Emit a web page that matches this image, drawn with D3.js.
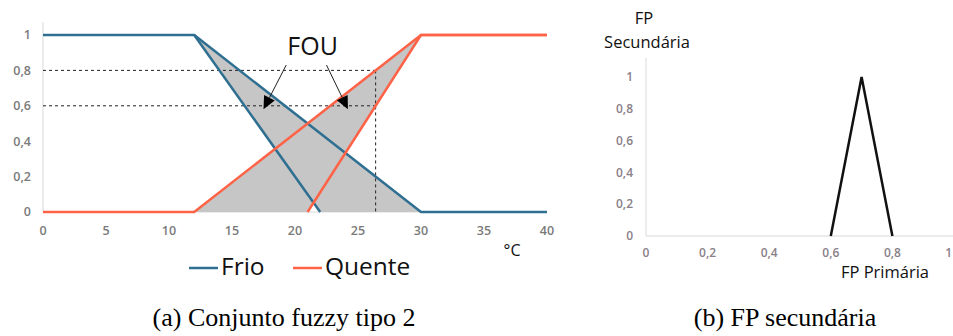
<!DOCTYPE html>
<html>
<head>
<meta charset="utf-8">
<script src="https://cdn.jsdelivr.net/npm/d3@7"></script>
<style>
  body { margin: 0; background: #fff; }
  svg { display: block; }
</style>
</head>
<body>
<svg id="chart"></svg>
<script>
const width = 953;
const height = 336;

// ---- data ----
const tempTicks = [0, 5, 10, 15, 20, 25, 30, 35, 40];
const membTicks = [0, 0.2, 0.4, 0.6, 0.8, 1];
const fpTicks = [0, 0.2, 0.4, 0.6, 0.8, 1];

const frioUpper   = [[0, 1], [12, 1], [30, 0], [40, 0]];
const frioLower   = [[12, 1], [22, 0]];
const quenteUpper = [[0, 0], [12, 0], [30, 1], [40, 1]];
const quenteLower = [[21, 0], [30, 1], [40, 1]];

const frioFOU   = [[12, 1], [30, 0], [22, 0]];
const quenteFOU = [[12, 0], [30, 1], [21, 0]];

const dashLevels = [0.8, 0.6];
const dashTemp = 26.4;

// FOU arrows: [from, to] in data coords
const fouArrows = [
  [[19.3, 0.83], [17.5, 0.58]],
  [[22.5, 0.83], [24.2, 0.58]]
];

const secondaryFP = [[0.6, 0], [0.7, 1], [0.8, 0]];

const legendItems = ["Frio", "Quente"];
const colors = { Frio: "#2f6f91", Quente: "#ff6347" };

const svg = d3.select("#chart")
  .attr("width", width)
  .attr("height", height)
  .attr("viewBox", `0 0 ${width} ${height}`);

const tickFont = "'Open Sans', sans-serif";
const serif = "'Liberation Serif', 'Times New Roman', serif";
const fmt = d => d3.format(".1~f")(d).replace(".", ",");

// ================= left chart =================
const x = d3.scaleLinear().domain([0, 40]).range([43, 547]);
const y = d3.scaleLinear().domain([0, 1]).range([212, 35]);
const line = d3.line().x(d => x(d[0])).y(d => y(d[1]));

const left = svg.append("g");

left.append("line")
  .attr("x1", x(0)).attr("x2", x(0))
  .attr("y1", 22).attr("y2", y(0))
  .attr("stroke", "#d9d9d9");
left.append("line")
  .attr("x1", x(0)).attr("x2", x(40))
  .attr("y1", y(0)).attr("y2", y(0))
  .attr("stroke", "#d9d9d9");

// y ticks
left.append("g").selectAll("text")
  .data(membTicks)
  .join("text")
  .attr("x", 31)
  .attr("y", d => y(d))
  .attr("dy", "0.35em")
  .attr("text-anchor", "end")
  .attr("font-family", tickFont)
  .attr("font-size", 12.5)
  .attr("font-weight", 600)
  .attr("fill", "#7a7a7a")
  .text(fmt);

// x ticks
left.append("g").selectAll("text")
  .data(tempTicks)
  .join("text")
  .attr("x", d => x(d))
  .attr("y", 231)
  .attr("dy", "0.35em")
  .attr("text-anchor", "middle")
  .attr("font-family", tickFont)
  .attr("font-size", 12.5)
  .attr("font-weight", 600)
  .attr("fill", "#7a7a7a")
  .text(d => d);

// FOU shading
left.selectAll("path.fou")
  .data([frioFOU, quenteFOU])
  .join("path")
  .attr("class", "fou")
  .attr("d", d => line(d) + "Z")
  .attr("fill", "#c6c6c6");

// dashed guides
left.selectAll("line.dash")
  .data(dashLevels)
  .join("line")
  .attr("class", "dash")
  .attr("x1", x(0)).attr("x2", x(dashTemp))
  .attr("y1", d => y(d)).attr("y2", d => y(d))
  .attr("stroke", "#222")
  .attr("stroke-dasharray", "3,3");
left.append("line")
  .attr("x1", x(dashTemp)).attr("x2", x(dashTemp))
  .attr("y1", y(d3.max(dashLevels))).attr("y2", y(0))
  .attr("stroke", "#222")
  .attr("stroke-dasharray", "3,3");

// membership lines
const series = [
  { name: "Frio", pts: frioUpper },
  { name: "Frio", pts: frioLower },
  { name: "Quente", pts: quenteUpper },
  { name: "Quente", pts: quenteLower }
];
left.selectAll("path.mf")
  .data(series)
  .join("path")
  .attr("class", "mf")
  .attr("d", d => line(d.pts))
  .attr("fill", "none")
  .attr("stroke", d => colors[d.name])
  .attr("stroke-width", 2.5)
  .attr("stroke-linejoin", "round");

// FOU label + arrows
left.append("text")
  .attr("x", x(21.4))
  .attr("y", 55)
  .attr("text-anchor", "middle")
  .attr("font-family", tickFont)
  .attr("font-size", 25)
  .attr("fill", "#111")
  .text("FOU");

fouArrows.forEach(([a, b]) => {
  const x0 = x(a[0]), y0 = y(a[1]), x1 = x(b[0]), y1 = y(b[1]);
  const ang = Math.atan2(y1 - y0, x1 - x0);
  const len = 13, half = 6;
  const bx = x1 - len * Math.cos(ang), by = y1 - len * Math.sin(ang);
  left.append("line")
    .attr("x1", x0).attr("y1", y0).attr("x2", bx).attr("y2", by)
    .attr("stroke", "#222").attr("stroke-width", 1);
  left.append("path")
    .attr("d", `M${x1},${y1}L${bx + half * Math.sin(ang)},${by - half * Math.cos(ang)}L${bx - half * Math.sin(ang)},${by + half * Math.cos(ang)}Z`)
    .attr("fill", "#000");
});

// axis unit
left.append("text")
  .attr("x", 512)
  .attr("y", 256)
  .attr("text-anchor", "middle")
  .attr("font-family", tickFont)
  .attr("font-size", 16)
  .attr("fill", "#111")
  .text("°C");

// legend
const legend = left.append("g");
const legX = [189, 293];
legendItems.forEach((name, i) => {
  legend.append("line")
    .attr("x1", legX[i]).attr("x2", legX[i] + 29)
    .attr("y1", 268).attr("y2", 268)
    .attr("stroke", colors[name])
    .attr("stroke-width", 2.5);
  legend.append("text")
    .attr("x", legX[i] + 32)
    .attr("y", 275)
    .attr("font-family", tickFont)
    .attr("font-size", 24.5)
    .attr("fill", "#111")
    .text(name);
});

// caption (a)
svg.append("text")
  .attr("x", 284)
  .attr("y", 326)
  .attr("text-anchor", "middle")
  .attr("font-family", serif)
  .attr("font-size", 26)
  .attr("fill", "#000")
  .text("(a) Conjunto fuzzy tipo 2");

// ================= right chart =================
const x2 = d3.scaleLinear().domain([0, 1]).range([646, 954]);
const y2 = d3.scaleLinear().domain([0, 1]).range([236, 77]);
const line2 = d3.line().x(d => x2(d[0])).y(d => y2(d[1]));

const right = svg.append("g");

right.append("line")
  .attr("x1", x2(0)).attr("x2", x2(0))
  .attr("y1", 58).attr("y2", y2(0))
  .attr("stroke", "#d9d9d9");
right.append("line")
  .attr("x1", x2(0)).attr("x2", width)
  .attr("y1", y2(0)).attr("y2", y2(0))
  .attr("stroke", "#d9d9d9");

right.append("g").selectAll("text")
  .data(fpTicks)
  .join("text")
  .attr("x", 633)
  .attr("y", d => y2(d))
  .attr("dy", "0.35em")
  .attr("text-anchor", "end")
  .attr("font-family", tickFont)
  .attr("font-size", 12)
  .attr("font-weight", 600)
  .attr("fill", "#8a8088")
  .text(fmt);

// last label sits at the page edge; keep it inside
right.append("g").selectAll("text")
  .data(fpTicks)
  .join("text")
  .attr("x", d => Math.min(x2(d), width - 1))
  .attr("y", 253)
  .attr("dy", "0.35em")
  .attr("text-anchor", d => x2(d) >= width - 4 ? "end" : "middle")
  .attr("font-family", tickFont)
  .attr("font-size", 12)
  .attr("font-weight", 600)
  .attr("fill", "#8a8088")
  .text(fmt);

right.append("path")
  .attr("d", line2(secondaryFP))
  .attr("fill", "none")
  .attr("stroke", "#111")
  .attr("stroke-width", 2.5);

right.append("text")
  .attr("x", 644)
  .attr("y", 24)
  .attr("text-anchor", "middle")
  .attr("font-family", tickFont)
  .attr("font-size", 16.5)
  .attr("fill", "#111")
  .text("FP");
right.append("text")
  .attr("x", 647)
  .attr("y", 48)
  .attr("text-anchor", "middle")
  .attr("font-family", tickFont)
  .attr("font-size", 16.5)
  .attr("fill", "#111")
  .text("Secundária");

right.append("text")
  .attr("x", 885)
  .attr("y", 278)
  .attr("text-anchor", "middle")
  .attr("font-family", tickFont)
  .attr("font-size", 16.5)
  .attr("fill", "#111")
  .text("FP Primária");

svg.append("text")
  .attr("x", 785)
  .attr("y", 326)
  .attr("text-anchor", "middle")
  .attr("font-family", serif)
  .attr("font-size", 26)
  .attr("fill", "#000")
  .text("(b) FP secundária");
</script>
</body>
</html>
